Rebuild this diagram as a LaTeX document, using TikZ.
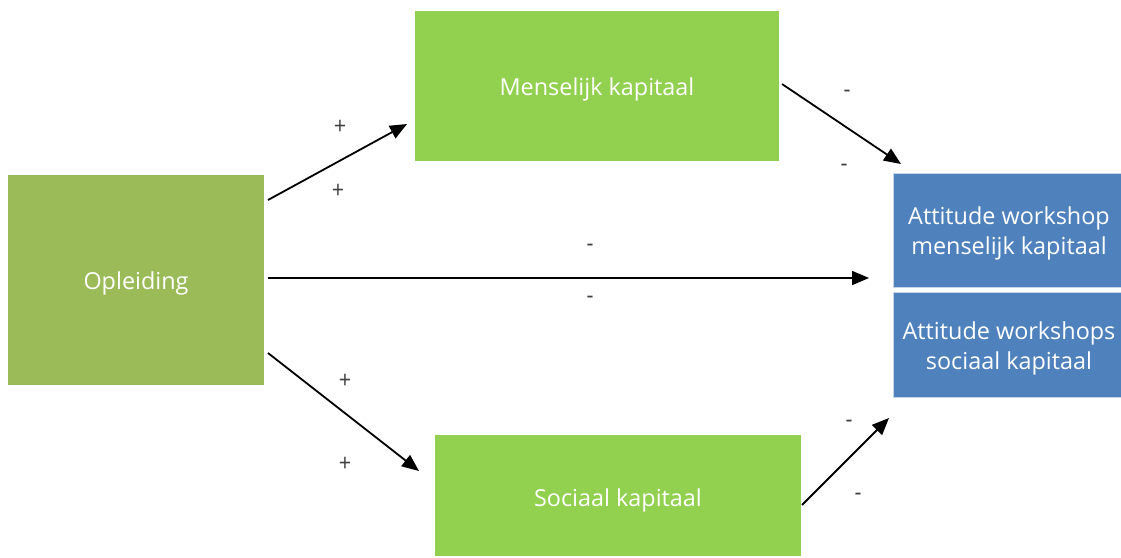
\documentclass[tikz,border=0pt]{standalone}
\usepackage{fontspec}
\setmainfont{Open Sans}
\usetikzlibrary{arrows.meta}
\definecolor{olive}{HTML}{9BBB59}
\definecolor{lgreen}{HTML}{92D050}
\definecolor{oblue}{HTML}{4F81BD}
\definecolor{bedge}{HTML}{C5D5EA}
\tikzset{
  box/.style={draw=none, text=white, align=center, font=\fontsize{23.4}{30}\selectfont},
  arr/.style={line width=1.8pt, -{Triangle[length=17pt,width=14pt]}},
  sign/.style={font=\fontsize{24}{28}\selectfont\addfontfeatures{FakeStretch=0.9}, text=black!75}
}
\begin{document}
\begin{tikzpicture}[x=1pt,y=-1pt]
\useasboundingbox (0,0) rectangle (1121,557);
\fill[olive] (8,175) rectangle (264,385);
\node[box] (op) at (136,283) {Opleiding};
\fill[lgreen] (415,11) rectangle (779,161);
\node[box] (mk) at (597,89) {Menselijk kapitaal};
\fill[lgreen] (435,435) rectangle (801,556);
\node[box] (sk) at (618,500) {Sociaal kapitaal};
\filldraw[fill=oblue, draw=bedge, line width=1pt] (893.5,173.5) rectangle (1121,287);
\node[box] (am) at (1009,233) {Attitude workshop\\menselijk kapitaal};
\filldraw[fill=oblue, draw=bedge, line width=1pt] (893.5,292.5) rectangle (1121,397.5);
\node[box] (as) at (1009,348) {Attitude workshops\\sociaal kapitaal};

\coordinate (a1s) at (268,200); \coordinate (a1e) at (407,124);
\coordinate (a2s) at (268,278); \coordinate (a2e) at (869,278);
\coordinate (a3s) at (268,353); \coordinate (a3e) at (419,471);
\coordinate (a4s) at (782,84);  \coordinate (a4e) at (901,164);
\coordinate (a5s) at (802,505); \coordinate (a5e) at (889,418);
\draw[arr] (a1s) -- (a1e);
\draw[arr] (a2s) -- (a2e);
\draw[arr] (a3s) -- (a3e);
\draw[arr] (a4s) -- (a4e);
\draw[arr] (a5s) -- (a5e);

\node[sign] (p1) at (340,127) {+};
\node[sign] (p2) at (338,191) {+};
\node[sign] (m1) at (590,248) {-};
\node[sign] (m2) at (590,300) {-};
\node[sign] (p3) at (345,381) {+};
\node[sign] (p4) at (345,464) {+};
\node[sign] (m3) at (847,94) {-};
\node[sign] (m4) at (844,168) {-};
\node[sign] (m5) at (849,424) {-};
\node[sign] (m6) at (858,497) {-};
\end{tikzpicture}
\end{document}
